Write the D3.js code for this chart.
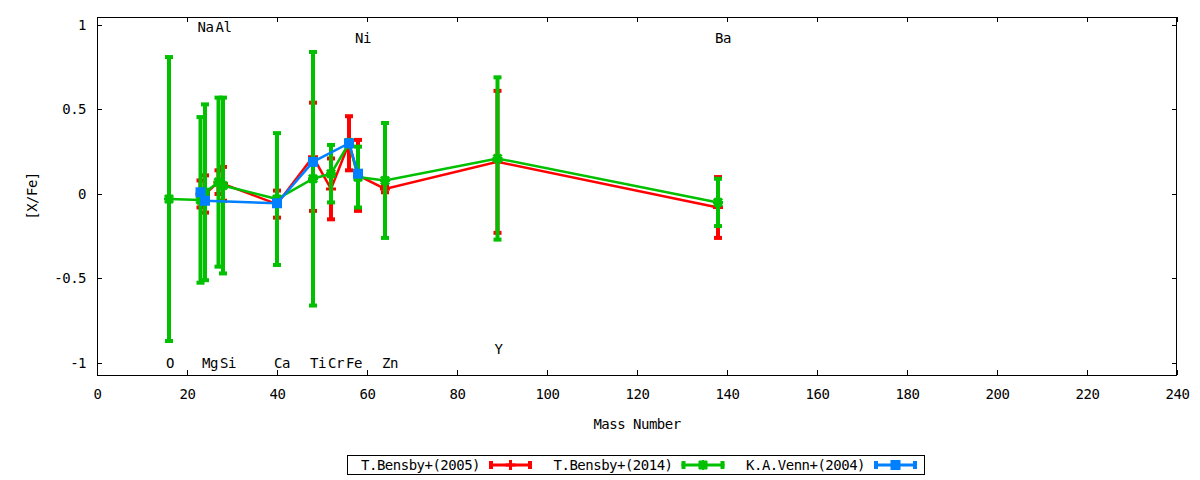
<!DOCTYPE html>
<html>
<head>
<meta charset="utf-8">
<script src="https://cdnjs.cloudflare.com/ajax/libs/d3/7.8.5/d3.min.js"></script>
<style>
    body { margin: 0; background: #fff; }
    text { font-family: "DejaVu Sans Mono", monospace; font-size: 14px; letter-spacing: -0.5px; fill: #000; }
</style>
</head>
<body>
<div class="chartContainer"></div>
<script>
// element labels along the plot
var elements = ["O", "Na", "Mg", "Al", "Si", "Ca", "Ti", "Cr", "Fe", "Ni", "Zn", "Y", "Ba"];
var elementMass = [16, 23, 24, 27, 28, 40, 48, 52, 56, 58, 64, 89, 138];
var elementLabelY = [-1, 0.985, -1, 0.985, -1, -1, -1, -1, -1, 0.92, -1, -0.92, 0.92];

// T.Bensby+(2005)
var bensby05Mass = [23, 24, 27, 28, 40, 48, 52, 56, 58, 64, 89, 138];
var bensby05Val = [0.00, 0.00, 0.07, 0.06, -0.06, 0.22, 0.03, 0.30, 0.11, 0.03, 0.19, -0.08];
var bensby05Err = [0.08, 0.11, 0.07, 0.10, 0.08, 0.32, 0.18, 0.16, 0.21, 0.02, 0.42, 0.18];

// T.Bensby+(2014)
var bensby14Mass = [16, 23, 24, 27, 28, 40, 48, 52, 56, 58, 64, 89, 138];
var bensby14Val = [-0.03, -0.035, 0.01, 0.07, 0.05, -0.03, 0.09, 0.12, 0.30, 0.10, 0.08, 0.21, -0.05];
var bensby14Err = [0.84, 0.49, 0.52, 0.50, 0.52, 0.39, 0.75, 0.17, 0.02, 0.18, 0.34, 0.48, 0.14];

// K.A.Venn+(2004)
var vennMass = [23, 24, 40, 48, 56, 58];
var vennVal = [0.01, -0.04, -0.055, 0.19, 0.30, 0.12];
var vennErr = [0, 0, 0, 0, 0, 0];

var xTicks = [0, 20, 40, 60, 80, 100, 120, 140, 160, 180, 200, 220, 240];
var yTicks = [-1, -0.5, 0, 0.5, 1];

var w = 1200,
    h = 480,
    plotL = 97,
    plotR = 1177,
    plotT = 17,
    plotB = 375;

var x = d3.scaleLinear().domain([0, 240]).range([plotL, plotR]);
var y = d3.scaleLinear().domain([-1.071, 1.047]).range([plotB, plotT]);

var canvas = d3.select(".chartContainer")
    .append("svg")
    .attr("width", w)
    .attr("height", h)
    .style("display", "block");

canvas.append("rect")
    .attr("width", w)
    .attr("height", h)
    .attr("fill", "#fff");

// axes, ticks point inward on all four sides
var fmt = function (d) { return String(d); };

canvas.append("g")
    .attr("transform", "translate(0," + plotB + ")")
    .call(d3.axisBottom(x).tickValues(xTicks).tickSize(-5).tickPadding(14).tickFormat(fmt));
canvas.append("g")
    .attr("transform", "translate(0," + plotT + ")")
    .call(d3.axisTop(x).tickValues(xTicks).tickSize(-5).tickFormat(""));
canvas.append("g")
    .attr("transform", "translate(" + plotL + ",0)")
    .call(d3.axisLeft(y).tickValues(yTicks).tickSize(-5).tickPadding(11).tickFormat(fmt));
canvas.append("g")
    .attr("transform", "translate(" + plotR + ",0)")
    .call(d3.axisRight(y).tickValues(yTicks).tickSize(-5).tickFormat(""));

canvas.selectAll(".domain").remove();
canvas.selectAll(".tick line").attr("stroke", "#000").attr("stroke-width", 1).attr("shape-rendering", "crispEdges");
canvas.selectAll(".tick text")
    .style("font-family", "DejaVu Sans Mono, monospace")
    .style("font-size", "14px")
    .style("letter-spacing", "-0.5px")
    .attr("fill", "#000");

canvas.append("rect")
    .attr("x", plotL + 0.5)
    .attr("y", plotT + 0.5)
    .attr("width", plotR - plotL - 1)
    .attr("height", plotB - plotT)
    .attr("fill", "none")
    .attr("stroke", "#000")
    .attr("stroke-width", 1)
    .attr("shape-rendering", "crispEdges");

canvas.append("text")
    .attr("x", (plotL + plotR) / 2)
    .attr("y", 429)
    .attr("text-anchor", "middle")
    .text("Mass Number");

canvas.append("text")
    .attr("transform", "translate(32," + ((plotT + plotB) / 2) + ") rotate(-90)")
    .attr("text-anchor", "middle")
    .attr("dy", "0.35em")
    .text("[X/Fe]");

// element names
canvas.selectAll(".elem")
    .data(elements)
    .enter()
    .append("text")
    .attr("class", "elem")
    .attr("x", function (d, i) { return x(elementMass[i]) - 3; })
    .attr("y", function (d, i) { return y(elementLabelY[i]); })
    .attr("dy", "0.35em")
    .text(function (d) { return d; });

var series = [
    {name: "T.Bensby+(2005)", color: "#ff0000", marker: "plus", mass: bensby05Mass, val: bensby05Val, err: bensby05Err},
    {name: "T.Bensby+(2014)", color: "#00c000", marker: "star", mass: bensby14Mass, val: bensby14Val, err: bensby14Err},
    {name: "K.A.Venn+(2004)", color: "#0080ff", marker: "square", mass: vennMass, val: vennVal, err: vennErr}
];

function drawMarker(g, type, cx, cy, color) {
    if (type === "square") {
        g.append("rect")
            .attr("x", cx - 5)
            .attr("y", cy - 5)
            .attr("width", 10)
            .attr("height", 10)
            .attr("fill", color);
    } else {
        var p = "M" + (cx - 5) + "," + cy + "H" + (cx + 5) + "M" + cx + "," + (cy - 5) + "V" + (cy + 5);
        if (type === "star") {
            p += "M" + (cx - 4) + "," + (cy - 4) + "L" + (cx + 4) + "," + (cy + 4) +
                 "M" + (cx - 4) + "," + (cy + 4) + "L" + (cx + 4) + "," + (cy - 4);
        }
        g.append("path")
            .attr("d", p)
            .attr("fill", "none")
            .attr("stroke", color)
            .attr("stroke-width", 3);
    }
}

var line = d3.line()
    .x(function (d) { return x(d.m); })
    .y(function (d) { return y(d.v); });

series.forEach(function (s) {
    var pts = s.mass.map(function (m, i) { return {m: m, v: s.val[i], e: s.err[i]}; });
    var g = canvas.append("g");

    g.append("path")
        .datum(pts)
        .attr("d", line)
        .attr("fill", "none")
        .attr("stroke", s.color)
        .attr("stroke-width", 2.5);

    // error bars
    g.selectAll(".bar")
        .data(pts)
        .enter()
        .append("line")
        .attr("x1", function (d) { return x(d.m); })
        .attr("x2", function (d) { return x(d.m); })
        .attr("y1", function (d) { return y(d.v + d.e); })
        .attr("y2", function (d) { return y(d.v - d.e); })
        .attr("stroke", s.color)
        .attr("stroke-width", 4);

    [1, -1].forEach(function (sign) {
        g.selectAll(".cap")
            .data(pts)
            .enter()
            .append("line")
            .attr("x1", function (d) { return x(d.m) - 4; })
            .attr("x2", function (d) { return x(d.m) + 4; })
            .attr("y1", function (d) { return y(d.v + sign * d.e); })
            .attr("y2", function (d) { return y(d.v + sign * d.e); })
            .attr("stroke", s.color)
            .attr("stroke-width", 4);
    });

    pts.forEach(function (d) {
        drawMarker(g, s.marker, x(d.m), y(d.v), s.color);
    });
});

// legend
var legend = canvas.append("g");
legend.append("rect")
    .attr("x", 347.5)
    .attr("y", 455.5)
    .attr("width", 577)
    .attr("height", 19)
    .attr("fill", "#fff")
    .attr("stroke", "#000")
    .attr("stroke-width", 1)
    .attr("shape-rendering", "crispEdges");

series.forEach(function (s, i) {
    var sx = 489 + i * 192.5,
        sy = 465;
    legend.append("text")
        .attr("x", sx - 9)
        .attr("y", sy)
        .attr("dy", "0.35em")
        .attr("text-anchor", "end")
        .text(s.name);
    legend.append("line")
        .attr("x1", sx).attr("x2", sx + 43)
        .attr("y1", sy).attr("y2", sy)
        .attr("stroke", s.color)
        .attr("stroke-width", 3);
    [sx + 2, sx + 41].forEach(function (cx) {
        legend.append("line")
            .attr("x1", cx).attr("x2", cx)
            .attr("y1", sy - 4).attr("y2", sy + 4)
            .attr("stroke", s.color)
            .attr("stroke-width", 4);
    });
    drawMarker(legend, s.marker, sx + 21.5, sy, s.color);
});
</script>
</body>
</html>
